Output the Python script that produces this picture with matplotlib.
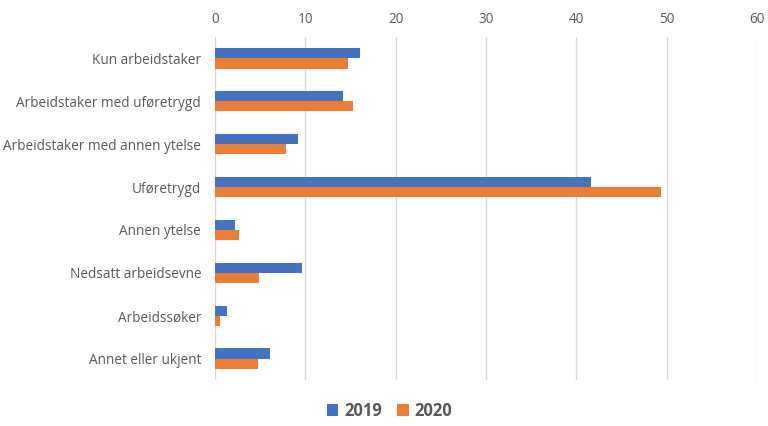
import matplotlib
matplotlib.use("Agg")
import matplotlib.pyplot as plt
import numpy as np

categories = ["Kun arbeidstaker", "Arbeidstaker med uføretrygd",
              "Arbeidstaker med annen ytelse", "Uføretrygd", "Annen ytelse",
              "Nedsatt arbeidsevne", "Arbeidssøker", "Annet eller ukjent"]
v2019 = [16.0, 14.2, 9.2, 41.6, 2.2, 9.6, 1.3, 6.1]
v2020 = [14.7, 15.3, 7.9, 49.4, 2.7, 4.9, 0.5, 4.8]
xticks = [0, 10, 20, 30, 40, 50, 60]

plt.rcParams["font.family"] = ["Open Sans", "DejaVu Sans"]
txt = "#595959"

fig = plt.figure(figsize=(7.68, 4.26), dpi=100)
ax = fig.add_axes([0.28, 0.108, 0.7057, 0.805])

y = np.arange(len(categories))
h = 0.235
ax.barh(y - h / 2, v2019, height=h, color="#4472C4", label="2019", zorder=3)
ax.barh(y + h / 2, v2020, height=h, color="#ED7D31", label="2020", zorder=3)

ax.set_ylim(len(categories) - 0.5, -0.5)
ax.set_xlim(0, 60)
ax.set_xticks(xticks)
ax.set_yticks(y)
ax.set_yticklabels(categories)
ax.xaxis.tick_top()
ax.tick_params(axis="both", length=0, colors=txt, labelsize=9.8)
ax.tick_params(axis="x", pad=7)
ax.tick_params(axis="y", pad=10)
ax.grid(axis="x", color="#d9d9d9", linewidth=1, zorder=0)
for s in ax.spines.values():
    s.set_visible(False)

leg = fig.legend(loc="lower center", bbox_to_anchor=(0.507, -0.02), ncol=2,
                 frameon=False, handlelength=0.7, handleheight=0.7,
                 columnspacing=0.9, handletextpad=0.35,
                 prop={"weight": "bold", "size": 12})
for t in leg.get_texts():
    t.set_color(txt)

fig.savefig("out.png", dpi=100)
